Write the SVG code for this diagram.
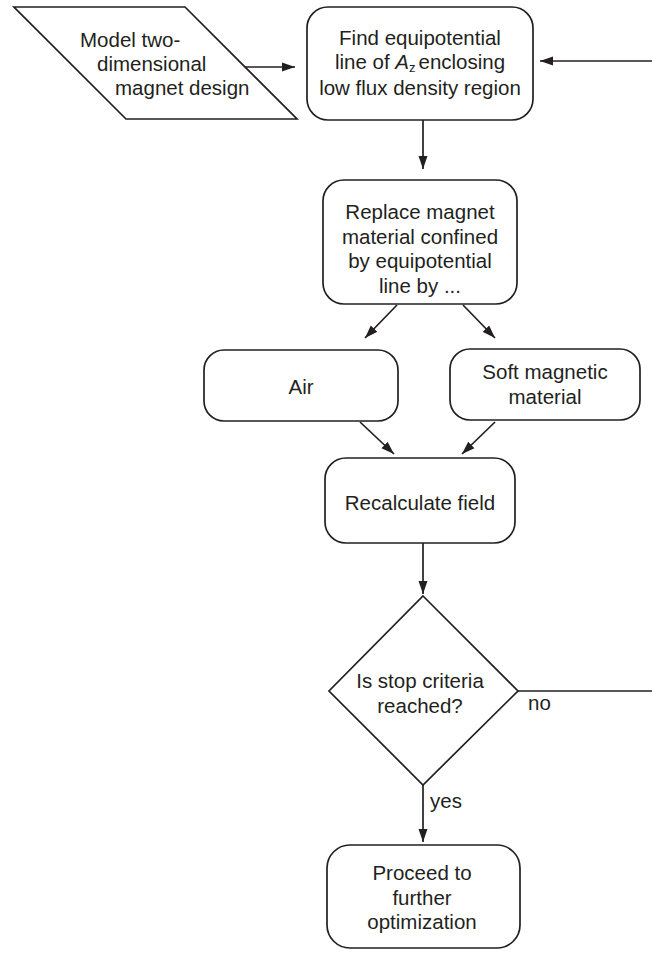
<svg xmlns="http://www.w3.org/2000/svg" width="652" height="955" viewBox="0 0 652 955">
<style>
.s{fill:#fff;stroke:#231f20;stroke-width:1.7}
.t{font-family:"Liberation Sans",Arial,sans-serif;font-size:20.5px;fill:#231f20}
.m{text-anchor:middle}
.c{fill:none;stroke:#231f20;stroke-width:1.7}
</style>
<defs>
<marker id="ah" markerUnits="userSpaceOnUse" markerWidth="14" markerHeight="10" refX="13" refY="5" orient="auto">
<path d="M0,0.5 L13,5 L0,9.5 Z" fill="#231f20"/>
</marker>
</defs>
<rect width="652" height="955" fill="#fff"/>
<g id="connectors">
<line class="c" x1="245" y1="67" x2="295" y2="67" marker-end="url(#ah)"/>
<line class="c" x1="652" y1="61" x2="540" y2="61" marker-end="url(#ah)"/>
<line class="c" x1="423" y1="120" x2="423" y2="169" marker-end="url(#ah)"/>
<line class="c" x1="397" y1="305" x2="365" y2="338" marker-end="url(#ah)"/>
<line class="c" x1="463" y1="305" x2="495" y2="338" marker-end="url(#ah)"/>
<line class="c" x1="360" y1="422" x2="394" y2="454" marker-end="url(#ah)"/>
<line class="c" x1="495" y1="422" x2="462" y2="454" marker-end="url(#ah)"/>
<line class="c" x1="423" y1="543" x2="423" y2="594" marker-end="url(#ah)"/>
<line class="c" x1="518" y1="691" x2="652" y2="691"/>
<line class="c" x1="423" y1="785" x2="423" y2="842" marker-end="url(#ah)"/>
<text class="t" x="528" y="710">no</text>
<text class="t" x="430" y="808">yes</text>
</g>
<g id="n_model">
<polygon class="s" points="14,7 185,7 297,119 126,119"/>
<text class="t" x="80" y="47">Model two-</text>
<text class="t" x="97" y="71">dimensional</text>
<text class="t" x="115" y="95">magnet design</text>
</g>
<g id="n_find">
<rect class="s" x="307" y="7" width="226" height="113" rx="21"/>
<text class="t m" x="420" y="45">Find equipotential</text>
<text class="t m" x="420" y="69">line of <tspan font-style="italic">A</tspan><tspan dy="3" font-size="13">z</tspan><tspan dy="-3" dx="3">enclosing</tspan></text>
<text class="t m" x="420" y="95">low flux density region</text>
</g>
<g id="n_replace">
<rect class="s" x="323" y="180" width="194" height="124" rx="21"/>
<text class="t m" x="420" y="219">Replace magnet</text>
<text class="t m" x="420" y="244">material confined</text>
<text class="t m" x="420" y="268">by equipotential</text>
<text class="t m" x="420" y="293">line by ...</text>
</g>
<g id="n_air">
<rect class="s" x="204" y="350" width="194" height="71" rx="20"/>
<text class="t m" x="301" y="394">Air</text>
</g>
<g id="n_soft">
<rect class="s" x="450" y="349" width="190" height="71" rx="20"/>
<text class="t m" x="545" y="379">Soft magnetic</text>
<text class="t m" x="545" y="404">material</text>
</g>
<g id="n_recalc">
<rect class="s" x="325" y="458" width="190" height="85" rx="21"/>
<text class="t m" x="420" y="510">Recalculate field</text>
</g>
<g id="n_stop">
<polygon class="s" points="423,596 518,691 423,785 329,691"/>
<text class="t m" x="420" y="688">Is stop criteria</text>
<text class="t m" x="420" y="713">reached?</text>
</g>
<g id="n_proceed">
<rect class="s" x="327" y="845" width="193" height="103" rx="23"/>
<text class="t m" x="422" y="880">Proceed to</text>
<text class="t m" x="422" y="905">further</text>
<text class="t m" x="422" y="929">optimization</text>
</g>
</svg>
